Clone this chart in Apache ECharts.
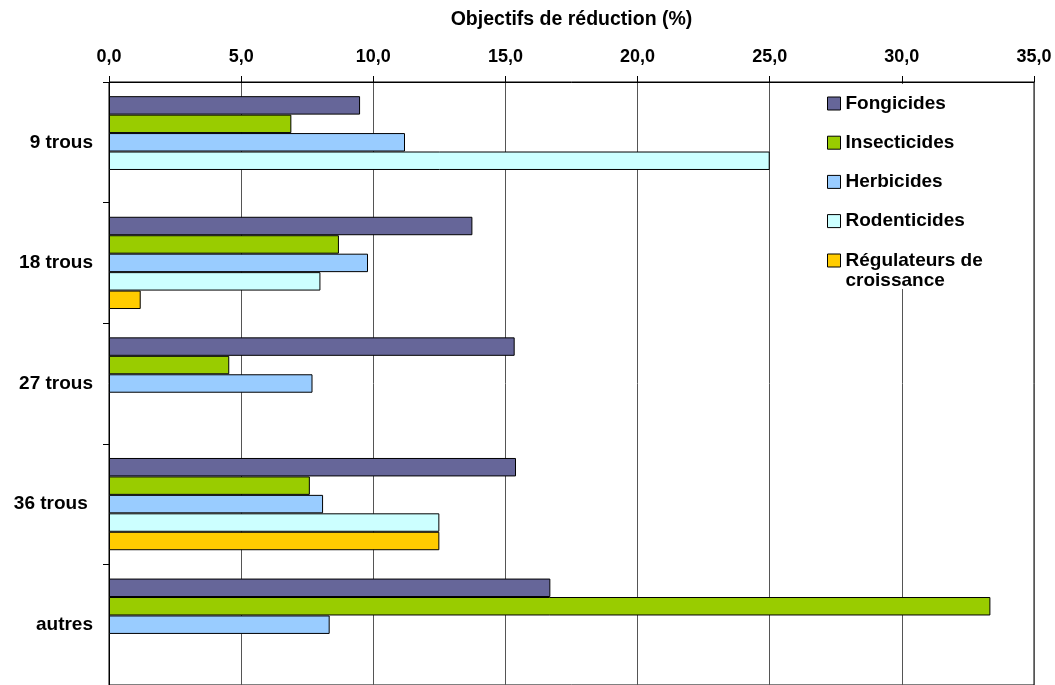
<!DOCTYPE html>
<html>
<head>
<meta charset="utf-8">
<script src="https://cdn.jsdelivr.net/npm/echarts@6/dist/echarts.min.js"></script>
<style>
html, body { margin: 0; padding: 0; background: #fff; }
#chart { width: 1055px; height: 685px; }
</style>
</head>
<body>
<div id="chart"></div>
<script>
const categories = ['9 trous', '18 trous', '27 trous', '36 trous ', 'autres'];
const seriesNames = ['Fongicides', 'Insecticides', 'Herbicides', 'Rodenticides', 'Régulateurs de croissance'];
const fongicides = [9.5, 13.75, 15.35, 15.4, 16.7];
const insecticides = [6.9, 8.7, 4.55, 7.6, 33.35];
const herbicides = [11.2, 9.8, 7.7, 8.1, 8.35];
const rodenticides = [25.0, 8.0, null, 12.5, null];
const regulateurs = [null, 1.2, null, 12.5, null];
const axisTitle = 'Objectifs de réduction (%)';

const colors = ['#666699', '#99CC00', '#99CCFF', '#CCFFFF', '#FFCC00'];
const allData = [fongicides, insecticides, herbicides, rodenticides, regulateurs];
const FONT = '"Liberation Sans", Arial, sans-serif';

const chart = echarts.init(document.getElementById('chart'), null, { renderer: 'canvas' });

const series = seriesNames.map((name, i) => ({
  name: name,
  type: 'bar',
  data: allData[i],
  barGap: 0,
  barCategoryGap: '23.5%',
  itemStyle: { color: colors[i], borderColor: '#000', borderWidth: 1 },
  emphasis: { disabled: true },
  animation: false
}));

const legendText = { fontFamily: FONT, fontWeight: 'bold', fontSize: 19, color: '#000', lineHeight: 20 };

chart.setOption({
  animation: false,
  color: colors,
  grid: {
    left: 109, top: 82, width: 925, height: 607.5,
    show: true, borderColor: '#000', borderWidth: 1, backgroundColor: 'transparent'
  },
  xAxis: {
    type: 'value',
    position: 'top',
    min: 0, max: 35, interval: 5,
    name: axisTitle,
    nameLocation: 'middle',
    nameGap: 52,
    nameTextStyle: { fontFamily: FONT, fontWeight: 'bold', fontSize: 19.5, color: '#000' },
    axisLine: { show: true, lineStyle: { color: '#000', width: 1 } },
    axisTick: { show: true, inside: false, length: 6, lineStyle: { color: '#000' } },
    axisLabel: {
      margin: 16,
      fontFamily: FONT, fontWeight: 'bold', fontSize: 18, color: '#000',
      formatter: v => v.toFixed(1).replace('.', ',')
    },
    splitLine: { show: true, lineStyle: { color: '#555', width: 1 } }
  },
  yAxis: {
    type: 'category',
    data: categories,
    inverse: true,
    axisLine: { show: true, lineStyle: { color: '#000', width: 1 } },
    axisTick: { show: true, inside: false, length: 6, lineStyle: { color: '#000' } },
    axisLabel: { margin: 16, fontFamily: FONT, fontWeight: 'bold', fontSize: 19, color: '#000' },
    splitLine: { show: false }
  },
  legend: [
    {
      data: seriesNames.slice(0, 4),
      orient: 'vertical',
      left: 815, top: 84,
      padding: [9.5, 30, 58, 12],
      backgroundColor: '#fff',
      itemWidth: 13, itemHeight: 13, itemGap: 19.2,
      icon: 'rect',
      itemStyle: { borderColor: '#000', borderWidth: 1 },
      textStyle: legendText,
      selectedMode: false
    },
    {
      data: seriesNames.slice(4),
      orient: 'vertical',
      left: 815, top: 230.5,
      padding: [0, 30, 0, 12],
      itemWidth: 13, itemHeight: 13,
      icon: 'rect',
      itemStyle: { borderColor: '#000', borderWidth: 1 },
      formatter: n => '\n' + n.replace(' croissance', '\ncroissance'),
      textStyle: legendText,
      selectedMode: false
    }
  ],
  series: series
});
</script>
</body>
</html>
